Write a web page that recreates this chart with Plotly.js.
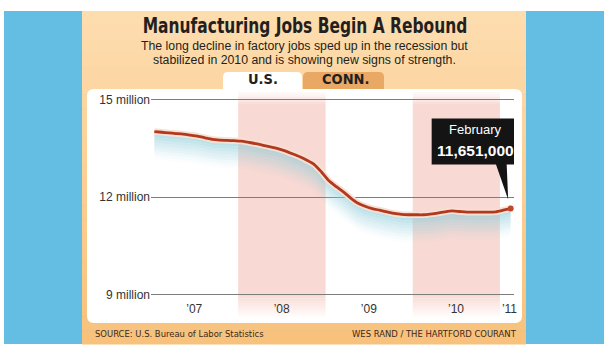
<!DOCTYPE html>
<html>
<head>
<meta charset="utf-8">
<script src="https://cdn.plot.ly/plotly-3.0.1.min.js"></script>
<style>html,body{margin:0;padding:0;background:#fff;}#chart{width:613px;height:351px;}</style>
</head>
<body>
<div id="chart"></div>
<script>
// ---- data ----
const months = [
 '2007-01-15','2007-02-15','2007-03-15','2007-04-15','2007-05-15','2007-06-15','2007-07-15','2007-08-15','2007-09-15','2007-10-15','2007-11-15','2007-12-15',
 '2008-01-15','2008-02-15','2008-03-15','2008-04-15','2008-05-15','2008-06-15','2008-07-15','2008-08-15','2008-09-15','2008-10-15','2008-11-15','2008-12-15',
 '2009-01-15','2009-02-15','2009-03-15','2009-04-15','2009-05-15','2009-06-15','2009-07-15','2009-08-15','2009-09-15','2009-10-15','2009-11-15','2009-12-15',
 '2010-01-15','2010-02-15','2010-03-15','2010-04-15','2010-05-15','2010-06-15','2010-07-15','2010-08-15','2010-09-15','2010-10-15','2010-11-15','2010-12-15',
 '2011-01-15','2011-02-15'];
// U.S. manufacturing jobs, millions
const jobs = [
 14.01,13.99,13.97,13.95,13.93,13.90,13.87,13.82,13.77,13.75,13.74,13.73,
 13.72,13.68,13.64,13.59,13.54,13.49,13.42,13.33,13.24,13.13,13.00,12.77,
 12.50,12.32,12.17,11.98,11.82,11.72,11.65,11.60,11.55,11.50,11.47,11.46,
 11.46,11.46,11.48,11.51,11.55,11.58,11.56,11.54,11.54,11.54,11.54,11.55,
 11.60,11.651];
const yTickVals = [9, 12, 15];
const yTickText = ['9 million', '12 million', '15 million'];
const xTickVals = ['2007-07-01','2008-07-01','2009-07-01','2010-07-01','2011-02-10'];
const xTickText = ['\u201907','\u201908','\u201909','\u201910','\u201911'];
const shadedYears = [['2008-01-01','2009-01-01'],['2010-01-01','2011-01-01']];
const calloutLabel = 'February';
const calloutValue = '11,651,000';
const titleText = 'Manufacturing Jobs Begin A Rebound';
const subtitleLines = ['The long decline in factory jobs sped up in the recession but',
                       'stabilized in 2010 and is showing new signs of strength.'];
const tabLabels = ['U.S.', 'CONN.'];
const sourceText = 'SOURCE: U.S. Bureau of Labor Statistics';
const creditText = 'WES RAND / THE HARTFORD COURANT';

// ---- styling helpers ----
const W = 613, H = 351;
const NARROW = "'DejaVu Sans Condensed', 'Liberation Sans', sans-serif";
const SANS = "'Liberation Sans', Arial, sans-serif";
const px = x => x / W, py = y => 1 - y / H;

function pixShape(path, fill) {
  return {type:'path', xref:'paper', yref:'paper', xsizemode:'pixel', ysizemode:'pixel',
          xanchor:0, yanchor:1, path:path, fillcolor:fill, line:{width:0}, layer:'below'};
}
function roundRect(x0, y0, x1, y1, r, topOnly) {
  const Y = v => -v;
  let p = `M ${x0+r} ${Y(y0)} L ${x1-r} ${Y(y0)} Q ${x1} ${Y(y0)} ${x1} ${Y(y0+r)} `;
  if (topOnly) {
    p += `L ${x1} ${Y(y1)} L ${x0} ${Y(y1)} `;
  } else {
    p += `L ${x1} ${Y(y1-r)} Q ${x1} ${Y(y1)} ${x1-r} ${Y(y1)} L ${x0+r} ${Y(y1)} Q ${x0} ${Y(y1)} ${x0} ${Y(y1-r)} `;
  }
  p += `L ${x0} ${Y(y0+r)} Q ${x0} ${Y(y0)} ${x0+r} ${Y(y0)} Z`;
  return p;
}
function lerpColor(a, b, t) {
  const pa = a.match(/\w\w/g).map(h => parseInt(h, 16));
  const pb = b.match(/\w\w/g).map(h => parseInt(h, 16));
  return 'rgb(' + pa.map((v, i) => Math.round(v + (pb[i] - v) * t)).join(',') + ')';
}

const shapes = [];
// blue backdrop
shapes.push(pixShape(`M 4 -11 L 604 -11 L 604 -344 L 4 -344 Z`, '#64bee4'));
// orange panel with vertical gradient
const nStrips = 24, pTop = 11, pBot = 344;
for (let i = 0; i < nStrips; i++) {
  const a = pTop + (pBot - pTop) * i / nStrips, b = pTop + (pBot - pTop) * (i + 1) / nStrips + 0.6;
  shapes.push(pixShape(`M 82 ${-a} L 526 ${-a} L 526 ${-b} L 82 ${-b} Z`,
    lerpColor('fddcae', 'f8c27c', i / (nStrips - 1))));
}
// tabs
shapes.push(pixShape(roundRect(303, 72, 384, 89, 5, true), '#e9a863'));
shapes.push(pixShape(roundRect(223, 72, 302, 95, 5, true), '#ffffff'));
// white chart panel
shapes.push(pixShape(roundRect(87, 89, 522, 323, 7, false), '#ffffff'));
// alternate-year shading with soft top/bottom edges
const bandColor = [248, 217, 211];
shadedYears.forEach(([a, b]) => {
  const add = (y0, y1, op) => shapes.push({type:'rect', xref:'x', yref:'paper', x0:a, x1:b,
     y0:py(y1), y1:py(y0), fillcolor:`rgba(${bandColor.join(',')},${op})`, line:{width:0}, layer:'below'});
  add(104, 296, 1);
  for (let k = 0; k < 5; k++) add(92 + k * 2.4, 92 + (k + 1) * 2.4, 0.15 + 0.17 * k);
  for (let k = 0; k < 8; k++) add(296 + k * 2.6, 296 + (k + 1) * 2.6, 0.9 - 0.11 * k);
});
// callout box and pointer anchored at last data point
const lastX = months[months.length - 1], lastY = jobs[jobs.length - 1];
function anchored(path, fill) {
  return {type:'path', xref:'x', yref:'y', xsizemode:'pixel', ysizemode:'pixel',
          xanchor:lastX, yanchor:lastY, path:path, fillcolor:fill, line:{width:0}, layer:'above'};
}
shapes.push(anchored('M -79 44 L 7 44 L 7 90 L -79 90 Z', '#141414'));
shapes.push(anchored('M -15 45 L -4 45 L -2.5 9 Z', '#141414'));

// ---- traces ----
const traces = [];
traces.push({x:months, y:jobs, mode:'lines', line:{width:0, color:'rgba(0,0,0,0)'}, hoverinfo:'skip', showlegend:false});
const shadowSteps = 10;
for (let k = 1; k <= shadowSteps; k++) {
  const alpha = 0.68 * Math.pow(1 - (k - 1) / shadowSteps, 1.3);
  traces.push({x:months, y:jobs.map(v => v - 0.085 * k), mode:'lines', line:{width:0, color:'rgba(0,0,0,0)'},
    fill:'tonexty', fillcolor:`rgba(140,204,218,${alpha.toFixed(3)})`, hoverinfo:'skip', showlegend:false});
}
traces.push({x:months, y:jobs, mode:'lines', line:{width:6.5, color:'#f7e0d4', shape:'spline', smoothing:0.6}, hoverinfo:'skip', showlegend:false});
traces.push({x:months, y:jobs, mode:'lines', line:{width:2.8, color:'#b2391d', shape:'spline', smoothing:0.6}, showlegend:false});
traces.push({x:[lastX], y:[lastY], mode:'markers', marker:{size:6, color:'#c0452a'}, showlegend:false});

// ---- annotations ----
const annotations = [
  {xref:'paper', yref:'paper', x:px(304), y:py(46), text:subtitleLines[0], showarrow:false,
   font:{family:SANS, size:12.3, color:'#231f20'}, xanchor:'center', yanchor:'middle'},
  {xref:'paper', yref:'paper', x:px(304), y:py(60), text:subtitleLines[1], showarrow:false,
   font:{family:SANS, size:12.3, color:'#231f20'}, xanchor:'center', yanchor:'middle'},
  {xref:'paper', yref:'paper', x:px(263), y:py(78.5), text:tabLabels[0], showarrow:false,
   font:{family:NARROW, size:14.5, color:'#231f20', weight:'bold'}, xanchor:'center', yanchor:'middle'},
  {xref:'paper', yref:'paper', x:px(345), y:py(78.5), text:tabLabels[1], showarrow:false,
   font:{family:NARROW, size:14.5, color:'#231f20', weight:'bold'}, xanchor:'center', yanchor:'middle'},
  {xref:'paper', yref:'paper', x:px(93), y:py(333), text:sourceText, showarrow:false,
   font:{family:NARROW, size:9.4, color:'#3a2a1c'}, xanchor:'left', yanchor:'middle'},
  {xref:'paper', yref:'paper', x:px(519), y:py(333), text:creditText, showarrow:false,
   font:{family:NARROW, size:9.4, color:'#3a2a1c'}, xanchor:'right', yanchor:'middle'},
  {xref:'x', yref:'y', x:lastX, y:lastY, ax:-35, ay:-79, text:calloutLabel, showarrow:true,
   arrowcolor:'rgba(0,0,0,0)', arrowwidth:0.1, font:{family:SANS, size:13, color:'#ffffff'}},
  {xref:'x', yref:'y', x:lastX, y:lastY, ax:-35, ay:-58, text:'<b>' + calloutValue + '</b>', showarrow:true,
   arrowcolor:'rgba(0,0,0,0)', arrowwidth:0.1, font:{family:SANS, size:15.5, color:'#ffffff'}}
];

const yUnit = (295 - 99.3) / 6;
const layout = {
  width:W, height:H, margin:{l:0, r:0, t:0, b:0, pad:0},
  paper_bgcolor:'#ffffff', plot_bgcolor:'rgba(0,0,0,0)',
  title:{text:titleText, font:{family:NARROW, size:21.5, color:'#231f20', weight:'bold'},
         x:px(305), xanchor:'center', y:py(25.5), yanchor:'middle', xref:'container', yref:'container'},
  xaxis:{type:'date', domain:[px(151), px(514)], range:['2007-01-01','2011-03-01'],
         tickvals:xTickVals, ticktext:xTickText, showgrid:false, zeroline:false, showline:false,
         ticks:'', ticklabelstandoff:2, tickfont:{family:SANS, size:12, color:'#333'}, fixedrange:true},
  yaxis:{domain:[py(295 + 0.1 * yUnit), py(99.3 - 0.1 * yUnit)], range:[8.9, 15.1], tickvals:yTickVals, ticktext:yTickText,
         showgrid:true, gridcolor:'#7d7d7d', gridwidth:1, zeroline:false, showline:false, ticks:'',
         tickfont:{family:SANS, size:12, color:'#333'}, fixedrange:true},
  shapes:shapes, annotations:annotations, showlegend:false, hovermode:false
};
Plotly.newPlot('chart', traces, layout, {staticPlot:true, displayModeBar:false}).then(() => {
  // condense the display title horizontally, as in the original condensed typeface
  const t = document.querySelector('.gtitle');
  if (t) {
    const cx = parseFloat(t.getAttribute('x')) || W / 2;
    const prev = t.getAttribute('transform') || '';
    t.setAttribute('transform', `translate(${cx},0) scale(0.8,1) translate(${-cx},0) ${prev}`);
  }
});
</script>
</body>
</html>
